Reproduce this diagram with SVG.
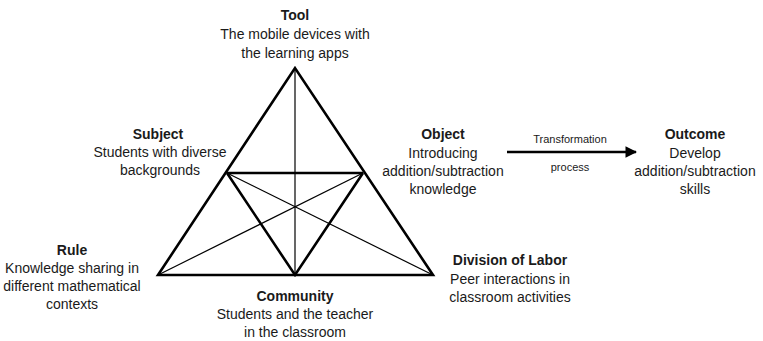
<svg xmlns="http://www.w3.org/2000/svg" width="763" height="341" viewBox="0 0 763 341">
  <style>
    text { font-family: "Liberation Sans", Arial, sans-serif; font-size: 14px; fill: #1a1a1a; text-anchor: middle; }
    .title { font-weight: bold; }
    .small { font-size: 11px; }
    .thick { stroke: #000; stroke-width: 2.6; fill: none; stroke-linejoin: miter; }
    .thin { stroke: #000; stroke-width: 1.2; fill: none; }
  </style>
  <defs>
    <marker id="arrowhead" viewBox="0 0 10 10" refX="9" refY="5" markerWidth="4.5" markerHeight="4.5" orient="auto" markerUnits="strokeWidth">
      <path d="M0,0 L10,5 L0,10 z" fill="#000"/>
    </marker>
  </defs>
  <rect width="763" height="341" fill="#fff"/>

  <!-- Activity system triangle -->
  <g id="connectors">
    <line class="thin" x1="295" y1="68" x2="295" y2="275"/>
    <line class="thin" x1="227" y1="173" x2="433" y2="275"/>
    <line class="thin" x1="363" y1="173" x2="158" y2="275"/>
    <polygon class="thick" points="158,275 295,68 433,275"/>
    <line class="thick" x1="227" y1="173" x2="363" y2="173"/>
    <polyline class="thick" points="227,173 295,275 363,173"/>
    <line x1="507" y1="152" x2="636" y2="152" stroke="#000" stroke-width="2.6" marker-end="url(#arrowhead)"/>
    <text class="small" x="570" y="143">Transformation</text>
    <text class="small" x="570" y="171">process</text>
  </g>

  <g id="tool">
    <text class="title" x="295" y="20">Tool</text>
    <text x="295" y="39">The mobile devices with</text>
    <text x="295" y="58">the learning apps</text>
  </g>

  <g id="subject">
    <text class="title" x="158" y="139">Subject</text>
    <text x="160" y="157">Students with diverse</text>
    <text x="160" y="175">backgrounds</text>
  </g>

  <g id="object">
    <text class="title" x="443" y="139">Object</text>
    <text x="443" y="158">Introducing</text>
    <text x="443" y="176">addition/subtraction</text>
    <text x="443" y="194">knowledge</text>
  </g>

  <g id="outcome">
    <text class="title" x="695" y="139">Outcome</text>
    <text x="695" y="158">Develop</text>
    <text x="695" y="176">addition/subtraction</text>
    <text x="695" y="194">skills</text>
  </g>

  <g id="rule">
    <text class="title" x="72" y="255">Rule</text>
    <text x="72" y="273">Knowledge sharing in</text>
    <text x="72" y="291">different mathematical</text>
    <text x="72" y="309">contexts</text>
  </g>

  <g id="community">
    <text class="title" x="295" y="301">Community</text>
    <text x="295" y="319">Students and the teacher</text>
    <text x="295" y="337">in the classroom</text>
  </g>

  <g id="division-of-labor">
    <text class="title" x="510" y="265">Division of Labor</text>
    <text x="510" y="284">Peer interactions in</text>
    <text x="510" y="302">classroom activities</text>
  </g>
</svg>
